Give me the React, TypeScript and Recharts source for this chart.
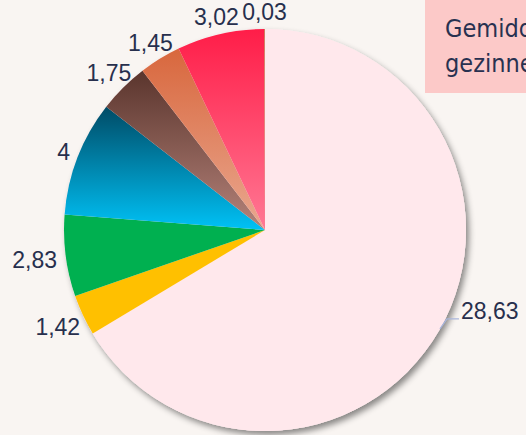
import React from 'react';
import { PieChart, Pie, Cell } from 'recharts';

// waarden per categorie, met de klok mee vanaf boven
const categories = ['A', 'B', 'C', 'D', 'E', 'F', 'G', 'H'];
const values = [28.63, 1.42, 2.83, 4, 1.75, 1.45, 3.02, 0.03];
const labels = ['28,63', '1,42', '2,83', '4', '1,75', '1,45', '3,02', '0,03'];

const titleLines = ['Gemiddelde', 'gezinnen'];

const sliceFills = [
  '#ffe8ec',
  '#ffc000',
  '#00b050',
  'url(#gBlue)',
  'url(#gBrown)',
  'url(#gOrange)',
  'url(#gRed)',
  '#c8704c',
];

const data = categories.map((name, i) => ({ name, value: values[i], label: labels[i] }));
const total = values.reduce((s, v) => s + v, 0);
const shadowData = [{ name: 'all', value: total }];

const RADIAN = Math.PI / 180;
const LABEL_COLOR = '#272f4d';
const FONT_SIZE = 23;

const renderLabel = (props: any) => {
  const { cx, cy, midAngle, outerRadius, index } = props;
  const text = data[index].label;
  const cos = Math.cos(-midAngle * RADIAN);
  const sin = Math.sin(-midAngle * RADIAN);

  if (index === 0) {
    // leader line for the big slice
    const sx = cx + outerRadius * cos;
    const sy = cy + outerRadius * sin;
    const ex = sx + 7;
    const ey = sy - 10;
    const tx = ex + 12;
    return (
      <g>
        <path d={`M${sx},${sy}L${ex},${ey}L${tx},${ey}`} stroke="#a9b5da" strokeWidth={1.3} fill="none" />
        <text x={tx + 2} y={ey - 8} fill={LABEL_COLOR} fontSize={FONT_SIZE} dominantBaseline="central" textAnchor="start">
          {text}
        </text>
      </g>
    );
  }

  const halfW = text.length * FONT_SIZE * 0.24;
  const halfH = 8;
  const boxDist = Math.min(
    Math.abs(cos) > 0.01 ? halfW / Math.abs(cos) : 1e9,
    Math.abs(sin) > 0.01 ? halfH / Math.abs(sin) : 1e9
  );
  const r = outerRadius + 9 + boxDist;
  const x = cx + r * cos;
  const y = cy + r * sin;
  return (
    <text x={x} y={y} fill={LABEL_COLOR} fontSize={FONT_SIZE} textAnchor="middle" dominantBaseline="central">
      {text}
    </text>
  );
};

export default function App() {
  return (
    <div
      style={{
        position: 'fixed',
        left: 0,
        top: 0,
        width: 526,
        height: 435,
        overflow: 'hidden',
        background: '#f9f5f2',
        fontFamily: "'Liberation Sans', Arial, sans-serif",
      }}
    >
      <PieChart width={526} height={435} margin={{ top: 0, right: 0, bottom: 0, left: 0 }}>
        <defs>
          <linearGradient id="gBlue" x1="0" y1="0" x2="0" y2="1">
            <stop offset="0%" stopColor="#004b66" />
            <stop offset="100%" stopColor="#00c2f6" />
          </linearGradient>
          <linearGradient id="gBrown" x1="0" y1="0" x2="0" y2="1">
            <stop offset="0%" stopColor="#5a352d" />
            <stop offset="100%" stopColor="#b5837a" />
          </linearGradient>
          <linearGradient id="gOrange" x1="0" y1="0" x2="0" y2="1">
            <stop offset="0%" stopColor="#d8673d" />
            <stop offset="100%" stopColor="#eaa890" />
          </linearGradient>
          <linearGradient id="gRed" x1="0" y1="0" x2="0" y2="1">
            <stop offset="0%" stopColor="#ff1d48" />
            <stop offset="100%" stopColor="#ff7894" />
          </linearGradient>
          <filter id="pieShadow" x="-10%" y="-10%" width="125%" height="125%">
            <feDropShadow dx={3} dy={4} stdDeviation={3} floodColor="#000" floodOpacity={0.45} />
          </filter>
        </defs>
        <Pie
          data={shadowData}
          dataKey="value"
          cx={265}
          cy={230}
          outerRadius={201}
          startAngle={90}
          endAngle={-270}
          stroke="none"
          fill="#ffe8ec"
          filter="url(#pieShadow)"
          isAnimationActive={false}
          label={false}
          labelLine={false}
        />
        <Pie
          data={data}
          dataKey="value"
          nameKey="name"
          cx={265}
          cy={230}
          outerRadius={201}
          startAngle={90}
          endAngle={-270}
          stroke="none"
          isAnimationActive={false}
          label={renderLabel}
          labelLine={false}
        >
          {data.map((d, i) => (
            <Cell key={d.name} fill={sliceFills[i]} />
          ))}
        </Pie>
      </PieChart>
      <div
        style={{
          position: 'absolute',
          left: 425,
          top: 0,
          width: 200,
          height: 93,
          background: '#fcc9c8',
          color: '#283150',
          fontFamily: "'Liberation Sans Narrow', 'DejaVu Sans Condensed', 'Roboto', sans-serif",
          fontStretch: 'condensed',
          fontSize: 25,
          lineHeight: '35px',
          paddingLeft: 20,
          paddingTop: 11,
          boxSizing: 'border-box',
          whiteSpace: 'nowrap',
        }}
      >
        {titleLines.map((t) => (
          <div key={t}>{t}</div>
        ))}
      </div>
    </div>
  );
}
